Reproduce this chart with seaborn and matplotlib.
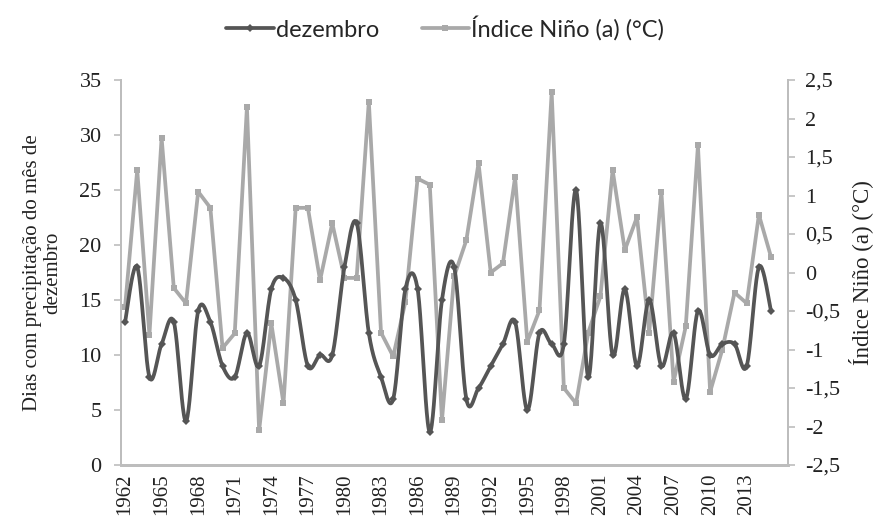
import numpy as np
import pandas as pd
import matplotlib
matplotlib.use("Agg")
import matplotlib.pyplot as plt
from matplotlib.lines import Line2D
import seaborn as sns

# Annual series, 1962-2015
years = list(range(1962, 2016))
dezembro = [13, 18, 8, 11, 13, 4, 14, 13, 9, 8,
            12, 9, 16, 17, 15, 9, 10, 10, 18, 22,
            12, 8, 6, 16, 16, 3, 15, 18, 6, 7,
            9, 11, 13, 5, 12, 11, 11, 25, 8, 22,
            10, 16, 9, 15, 9, 12, 6, 14, 10, 11,
            11, 9, 18, 14]
nino = [-0.45, 1.33, -0.81, 1.75, -0.2, -0.4, 1.05, 0.84, -0.98, -0.79,
        2.15, -2.05, -0.66, -1.7, 0.84, 0.84, -0.1, 0.64, -0.07, -0.07,
        2.22, -0.78, -1.09, -0.38, 1.22, 1.14, -1.92, -0.05, 0.42, 1.42,
        0.0, 0.12, 1.24, -0.9, -0.49, 2.34, -1.5, -1.7, -0.78, -0.31,
        1.33, 0.29, 0.72, -0.78, 1.05, -1.42, -0.7, 1.65, -1.55, -1.0,
        -0.26, -0.4, 0.75, 0.2]

left_ticks = [0, 5, 10, 15, 20, 25, 30, 35]
right_ticks = [-2.5, -2, -1.5, -1, -0.5, 0, 0.5, 1, 1.5, 2, 2.5]
label_step = 3


def smooth_curve(xs, ys, steps=24):
    """Piecewise cubic Bezier through the points (spreadsheet-style smoothing)."""
    pts = np.column_stack([xs, ys]).astype(float)
    n = len(pts)
    out = []
    t = np.linspace(0, 1, steps, endpoint=False)[:, None]
    for i in range(n - 1):
        p0 = pts[i - 1] if i > 0 else pts[i]
        p1 = pts[i]
        p2 = pts[i + 1]
        p3 = pts[i + 2] if i + 2 < n else pts[i + 1]
        c1 = p1 + (p2 - p0) / 6.0
        c2 = p2 - (p3 - p1) / 6.0
        seg = ((1 - t) ** 3) * p1 + 3 * ((1 - t) ** 2) * t * c1 + 3 * (1 - t) * t ** 2 * c2 + t ** 3 * p2
        out.append(seg)
    out.append(pts[-1][None, :])
    out = np.vstack(out)
    return out[:, 0], out[:, 1]


sns.set_theme(style="white")
serif = "Liberation Serif"
sans = "Lato"
plt.rcParams["font.family"] = [serif, "DejaVu Serif"]

dark = "#555555"
light = "#a9a9a9"
axis_grey = "#bdbdbd"
text_col = "#222222"
lw = 2.7

idx = np.arange(len(years))
df = pd.DataFrame({"idx": idx, "ano": years, "dezembro": dezembro, "nino": nino})

fig = plt.figure(figsize=(8.75, 5.32), dpi=100)
ax = fig.add_axes([0.1383, 0.1259, 0.7623, 0.8496 - 0.1259])
ax2 = ax.twinx()

# Secondary axis: Niño index, straight segments with square markers
sns.lineplot(data=df, x="idx", y="nino", ax=ax2, color=light, lw=lw,
             marker="s", markersize=4.5, markeredgewidth=0, legend=False, zorder=2)

# Primary axis: December rain days, smoothed curve with diamond markers
sx, sy = smooth_curve(idx, dezembro)
sns.lineplot(x=sx, y=sy, ax=ax, color=dark, lw=lw, sort=False, estimator=None,
             legend=False, zorder=3)
sns.lineplot(data=df, x="idx", y="dezembro", ax=ax, color=dark, lw=0,
             marker="D", markersize=4.5, markeredgewidth=0, legend=False, zorder=4)

# Primary axis drawn above the twin so the dark curve sits on top
ax.set_zorder(ax2.get_zorder() + 1)
ax.patch.set_visible(False)

xlim = (-0.33, 54.39)
ax.set_xlim(*xlim)
ax2.set_xlim(*xlim)
ax.set_ylim(0, 35)
ax2.set_ylim(-2.5, 2.5)

tick_pos = idx[::label_step]
ax.set_xticks(tick_pos)
ax.set_xticklabels([str(years[i]) for i in tick_pos], rotation=90,
                   fontsize=15, family=serif)
ax.set_yticks(left_ticks)
ax.set_yticklabels([str(v) for v in left_ticks], fontsize=16, family=serif)
ax2.set_yticks(right_ticks)
ax2.set_yticklabels([("%g" % v).replace(".", ",") for v in right_ticks],
                    fontsize=16, family=serif)

ax.tick_params(axis="x", length=0, pad=6, colors=text_col)
ax.tick_params(axis="y", length=5, width=1.2, color=axis_grey, pad=9, labelcolor=text_col, left=True)
ax2.tick_params(axis="y", length=5, width=1.2, color=axis_grey, pad=7, labelcolor=text_col, right=True)

for a in (ax, ax2):
    a.spines["top"].set_visible(False)
    for side in ("left", "right", "bottom"):
        a.spines[side].set_color(axis_grey)
    a.spines["left"].set_linewidth(1.4)
    a.spines["right"].set_linewidth(1.4)
    a.spines["bottom"].set_linewidth(2.0)
    a.set_xlabel("")
    a.grid(False)

ax.set_ylabel("Dias com precipitação do mês de\ndezembro", fontsize=15, labelpad=12,
              linespacing=1.1, color=text_col, fontfamily=serif)
ax2.set_ylabel("Índice Niño (a) (°C)", fontsize=16.5, labelpad=6, color=text_col,
               fontfamily=serif)

# Legend across the top
handles = [
    Line2D([], [], color=dark, lw=lw, marker="D", markersize=4.5, markeredgewidth=0),
    Line2D([], [], color=light, lw=lw, marker="s", markersize=4.5, markeredgewidth=0),
]
fig.legend(handles, ["dezembro", "Índice Niño (a) (°C)"], loc="center",
           bbox_to_anchor=(0.509, 0.947), ncol=2, frameon=False,
           prop={"family": sans, "size": 17},
           handlelength=2.0, handletextpad=0.1, columnspacing=1.8)

fig.savefig("out.png", dpi=100)
